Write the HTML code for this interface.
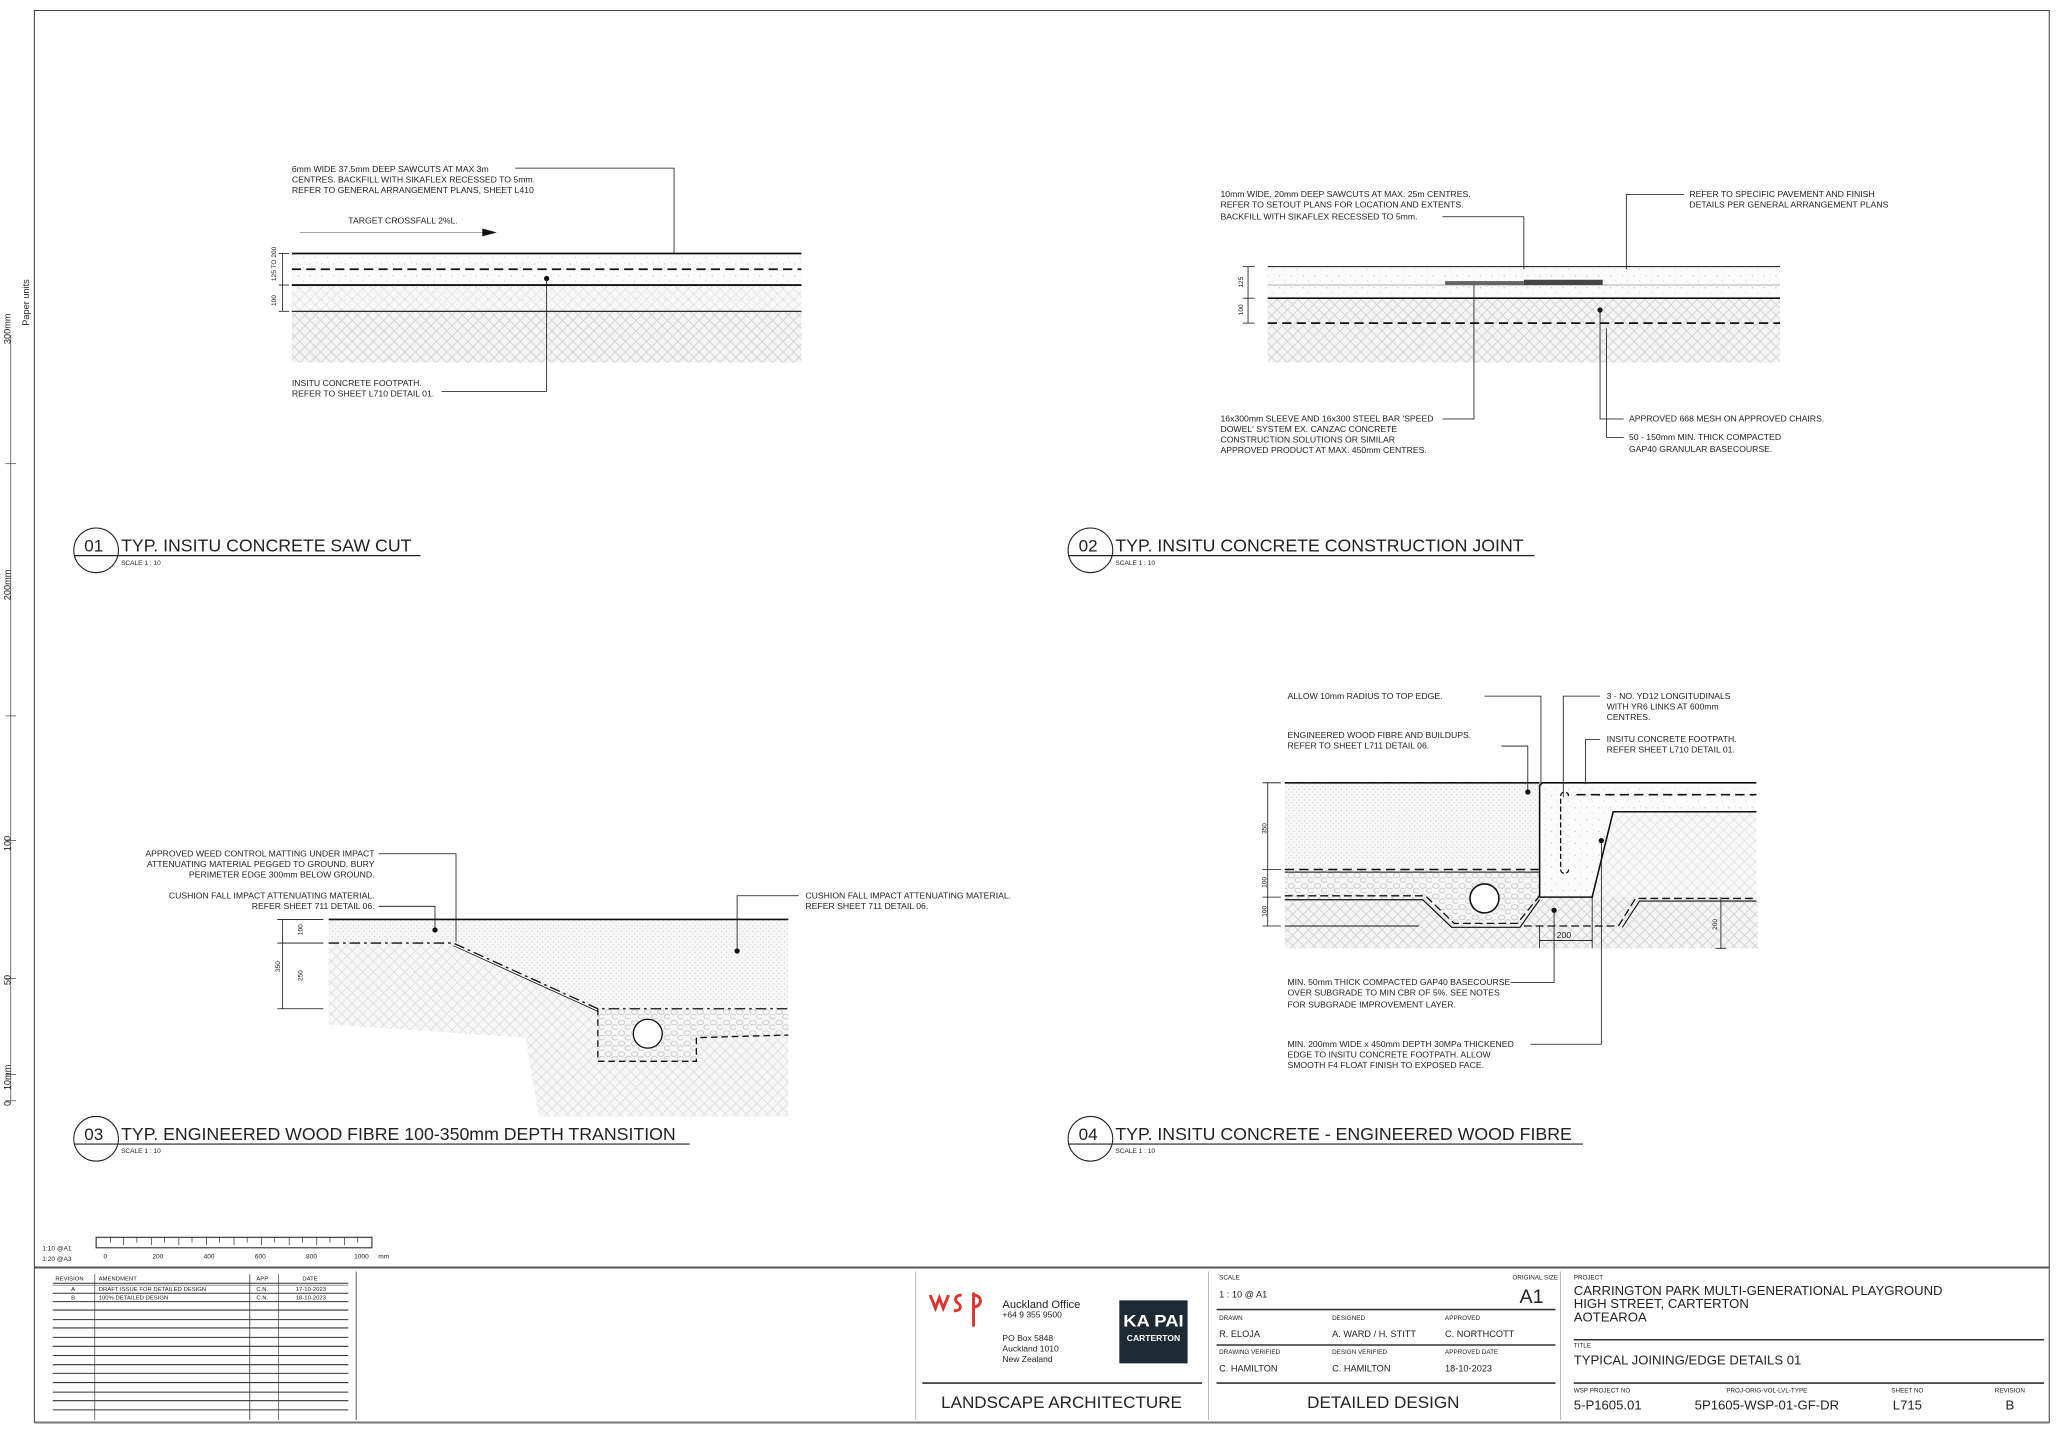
<!DOCTYPE html>
<html><head><meta charset="utf-8"><style>
html,body{margin:0;padding:0;background:#fff;}
svg{display:block;}
text{font-family:"Liberation Sans",Arial,sans-serif;fill:#222;}
.n{font-size:6.6px;}
.s{font-size:5px;}
.t{font-size:13.5px;}
</style></head><body>
<svg width="2060" height="1433" viewBox="0 0 1568 1091" xmlns="http://www.w3.org/2000/svg">
<defs>
<pattern id="ground" width="8" height="8" patternUnits="userSpaceOnUse">
<rect width="8" height="8" fill="#f4f4f4"/>
<path d="M0 8L8 0M0 0L8 8" stroke="#cfcfcf" stroke-width="0.6"/>
</pattern>
<pattern id="conc" width="9" height="9" patternUnits="userSpaceOnUse">
<rect width="9" height="9" fill="#fbfbfb"/>
<circle cx="2" cy="3" r="0.5" fill="#bbb"/><circle cx="6" cy="7" r="0.4" fill="#ccc"/><circle cx="7" cy="2" r="0.3" fill="#bbb"/>
</pattern>
<pattern id="ewf" width="4" height="4" patternUnits="userSpaceOnUse">
<rect width="4" height="4" fill="#f7f7f7"/><circle cx="1" cy="1" r="0.5" fill="#cdcdcd"/><circle cx="3" cy="3" r="0.5" fill="#d8d8d8"/>
</pattern>
<pattern id="grav" width="10" height="8" patternUnits="userSpaceOnUse">
<rect width="10" height="8" fill="#f6f6f6"/>
<ellipse cx="3" cy="2.5" rx="2.5" ry="1.8" fill="none" stroke="#bbb" stroke-width="0.5"/>
<ellipse cx="8" cy="6" rx="2.3" ry="1.8" fill="none" stroke="#bbb" stroke-width="0.5"/>
</pattern>
</defs>
<rect width="1568" height="1091" fill="#fff"/>
<!-- border -->
<path d="M26 8H1560V1083H26Z" fill="none" stroke="#444" stroke-width="0.8"/>
<!-- left paper ruler -->
<g stroke="#555" stroke-width="0.6">
<line x1="8" y1="255" x2="8" y2="840"/>
<line x1="4" y1="353" x2="12" y2="353"/><line x1="4" y1="545" x2="12" y2="545"/><line x1="4" y1="640" x2="12" y2="640"/>
<line x1="4" y1="745" x2="12" y2="745"/><line x1="4" y1="818" x2="12" y2="818"/><line x1="4" y1="838" x2="12" y2="838"/>
</g>
<g class="s" font-size="7">
<text transform="translate(8,262) rotate(-90)" font-size="7">300mm</text>
<text transform="translate(22,248) rotate(-90)" font-size="7">Paper units</text>
<text transform="translate(8,457) rotate(-90)" font-size="7">200mm</text>
<text transform="translate(8,648) rotate(-90)" font-size="7">100</text>
<text transform="translate(8,750) rotate(-90)" font-size="7">50</text>
<text transform="translate(8,830) rotate(-90)" font-size="7">10mm</text>
<text transform="translate(8,842) rotate(-90)" font-size="7">0</text>
</g>

<!-- ============ DETAIL 01 ============ -->
<rect x="222" y="193" width="388" height="44" fill="url(#conc)"/>
<rect x="222" y="217" width="388" height="20" fill="url(#ground)" opacity="0.5"/>
<rect x="222" y="237" width="388" height="39" fill="url(#ground)"/>
<g stroke="#111">
<line x1="222" y1="193" x2="610" y2="193" stroke-width="1.4"/>
<line x1="222" y1="205" x2="610" y2="205" stroke-width="1.4" stroke-dasharray="7,4"/>
<line x1="222" y1="217" x2="610" y2="217" stroke-width="1.4"/>
<line x1="222" y1="237" x2="610" y2="237" stroke-width="0.8"/>
<line x1="215" y1="193" x2="215" y2="237" stroke-width="0.6"/>
<line x1="212" y1="193" x2="220" y2="193" stroke-width="0.6"/><line x1="212" y1="217" x2="220" y2="217" stroke-width="0.6"/><line x1="212" y1="237" x2="220" y2="237" stroke-width="0.6"/>
<polyline points="392,128 513,128 513,193" fill="none" stroke-width="0.6"/>
<polyline points="336,298 416,298 416,212" fill="none" stroke-width="0.6"/>
<line x1="228" y1="177" x2="368" y2="177" stroke="#888" stroke-width="0.6"/>
</g>
<polygon points="367,174 378,177 367,180" fill="#111"/>
<circle cx="416" cy="212" r="2" fill="#111"/>
<text class="s" transform="translate(210,214) rotate(-90)">125 TO 200</text>
<text class="s" transform="translate(210,233) rotate(-90)">100</text>
<text class="n" x="222" y="131">6mm WIDE 37.5mm DEEP SAWCUTS AT MAX 3m</text>
<text class="n" x="222" y="139">CENTRES. BACKFILL WITH SIKAFLEX RECESSED TO 5mm.</text>
<text class="n" x="222" y="147">REFER TO GENERAL ARRANGEMENT PLANS, SHEET L410</text>
<text class="n" x="265" y="170">TARGET CROSSFALL 2%L.</text>
<text class="n" x="222" y="294">INSITU CONCRETE FOOTPATH.</text>
<text class="n" x="222" y="302">REFER TO SHEET L710 DETAIL 01.</text>
<!-- title 01 -->
<circle cx="73" cy="419" r="17" fill="none" stroke="#222" stroke-width="0.8"/>
<line x1="56" y1="423" x2="320" y2="423" stroke="#222" stroke-width="0.9"/>
<text x="64" y="420" font-size="13">01</text>
<text class="t" x="92" y="420">TYP. INSITU CONCRETE SAW CUT</text>
<text class="s" x="92" y="430">SCALE  1 : 10</text>

<!-- ============ DETAIL 02 ============ -->
<rect x="965" y="203" width="390" height="24" fill="url(#conc)"/>
<rect x="965" y="227" width="390" height="49" fill="url(#ground)"/>
<g stroke="#111">
<line x1="965" y1="203" x2="1355" y2="203" stroke-width="0.8"/>
<line x1="965" y1="217" x2="1355" y2="217" stroke-width="0.6" stroke="#999"/>
<line x1="965" y1="227" x2="1355" y2="227" stroke-width="1.2"/>
<line x1="965" y1="246" x2="1355" y2="246" stroke-width="1.4" stroke-dasharray="7,4"/>
<rect x="1100" y="214" width="60" height="3" fill="#666" stroke="none"/>
<rect x="1160" y="213" width="60" height="4" fill="#444" stroke="none"/>
<line x1="950" y1="203" x2="950" y2="246" stroke-width="0.6"/>
<line x1="946" y1="203" x2="955" y2="203" stroke-width="0.6"/><line x1="946" y1="227" x2="955" y2="227" stroke-width="0.6"/><line x1="946" y1="246" x2="955" y2="246" stroke-width="0.6"/>
<polyline points="1098,165 1160,165 1160,205" fill="none" stroke-width="0.6"/>
<polyline points="1282,148 1238,148 1238,205" fill="none" stroke-width="0.6"/>
<polyline points="1098,319 1122,319 1122,217" fill="none" stroke-width="0.6"/>
<polyline points="1236,319 1218,319 1218,236" fill="none" stroke-width="0.6"/>
<polyline points="1236,333 1223,333 1223,250" fill="none" stroke-width="0.6"/>
</g>
<circle cx="1218" cy="236" r="2" fill="#111"/>
<text class="s" transform="translate(946,219) rotate(-90)">125</text>
<text class="s" transform="translate(946,240) rotate(-90)">100</text>
<text class="n" x="929" y="150">10mm WIDE, 20mm DEEP SAWCUTS AT MAX. 25m CENTRES.</text>
<text class="n" x="929" y="158">REFER TO SETOUT PLANS FOR LOCATION AND EXTENTS.</text>
<text class="n" x="929" y="167">BACKFILL WITH SIKAFLEX RECESSED TO 5mm.</text>
<text class="n" x="1286" y="150">REFER TO SPECIFIC PAVEMENT AND FINISH</text>
<text class="n" x="1286" y="158">DETAILS PER GENERAL ARRANGEMENT PLANS</text>
<text class="n" x="929" y="321">16x300mm SLEEVE AND 16x300 STEEL BAR 'SPEED</text>
<text class="n" x="929" y="329">DOWEL' SYSTEM EX. CANZAC CONCRETE</text>
<text class="n" x="929" y="337">CONSTRUCTION SOLUTIONS OR SIMILAR</text>
<text class="n" x="929" y="345">APPROVED PRODUCT AT MAX. 450mm CENTRES.</text>
<text class="n" x="1240" y="321">APPROVED 668 MESH ON APPROVED CHAIRS.</text>
<text class="n" x="1240" y="335">50 - 150mm MIN. THICK COMPACTED</text>
<text class="n" x="1240" y="344">GAP40 GRANULAR BASECOURSE.</text>
<circle cx="830" cy="419" r="17" fill="none" stroke="#222" stroke-width="0.8"/>
<line x1="813" y1="423" x2="1168" y2="423" stroke="#222" stroke-width="0.9"/>
<text x="821" y="420" font-size="13">02</text>
<text class="t" x="849" y="420">TYP. INSITU CONCRETE CONSTRUCTION JOINT</text>
<text class="s" x="849" y="430">SCALE  1 : 10</text>

<!-- ============ DETAIL 03 ============ -->
<polygon points="250,700 600,700 600,850 410,850 400,790 250,780" fill="url(#ground)" opacity="0.7"/>
<polygon points="250,700 600,700 600,768 455,768 345,718 250,718" fill="url(#ewf)"/>
<polygon points="455,768 600,768 600,790 530,790 530,808 455,808" fill="url(#grav)"/>
<g stroke="#111">
<line x1="250" y1="700" x2="600" y2="700" stroke-width="1.2"/>
<polyline points="250,718 345,718 455,768 600,768" fill="none" stroke-width="1" stroke-dasharray="8,3,2,3"/>
<polyline points="345,720 455,770" fill="none" stroke-width="0.6"/>
<polyline points="455,768 455,808 530,808 530,790 600,788" fill="none" stroke-width="1" stroke-dasharray="5,3"/>
<line x1="215" y1="700" x2="215" y2="768" stroke-width="0.6"/>
<line x1="211" y1="700" x2="246" y2="700" stroke-width="0.6"/><line x1="211" y1="718" x2="246" y2="718" stroke-width="0.6"/><line x1="211" y1="768" x2="246" y2="768" stroke-width="0.6"/>
<polyline points="288,650 347,650 347,717" fill="none" stroke-width="0.6"/>
<polyline points="288,690 331,690 331,708" fill="none" stroke-width="0.6"/>
<polyline points="608,682 561,682 561,724" fill="none" stroke-width="0.6"/>
</g>
<circle cx="493" cy="787" r="11" fill="#fff" stroke="#111" stroke-width="1"/>
<circle cx="331" cy="708" r="2" fill="#111"/><circle cx="561" cy="724" r="2" fill="#111"/>
<text class="s" transform="translate(230,712) rotate(-90)">100</text>
<text class="s" transform="translate(230,747) rotate(-90)">250</text>
<text class="s" transform="translate(213,740) rotate(-90)">350</text>
<g class="n" text-anchor="end">
<text x="285" y="652">APPROVED WEED CONTROL MATTING UNDER IMPACT</text>
<text x="285" y="660">ATTENUATING MATERIAL PEGGED TO GROUND. BURY</text>
<text x="285" y="668">PERIMETER EDGE 300mm BELOW GROUND.</text>
<text x="285" y="684">CUSHION FALL IMPACT ATTENUATING MATERIAL.</text>
<text x="285" y="692">REFER SHEET 711 DETAIL 06.</text>
</g>
<text class="n" x="613" y="684">CUSHION FALL IMPACT ATTENUATING MATERIAL.</text>
<text class="n" x="613" y="692">REFER SHEET 711 DETAIL 06.</text>
<circle cx="73" cy="867" r="17" fill="none" stroke="#222" stroke-width="0.8"/>
<line x1="56" y1="871" x2="525" y2="871" stroke="#222" stroke-width="0.9"/>
<text x="64" y="868" font-size="13">03</text>
<text class="t" x="92" y="868">TYP. ENGINEERED WOOD FIBRE 100-350mm DEPTH TRANSITION</text>
<text class="s" x="92" y="878">SCALE  1 : 10</text>

<!-- ============ DETAIL 04 ============ -->
<rect x="978" y="683" width="360" height="39" fill="url(#ground)"/>
<rect x="978" y="596" width="194" height="66" fill="url(#ewf)"/>
<polygon points="978,662 1172,662 1172,683 1155,705 1107,705 1085,683 978,683" fill="url(#grav)"/>
<polygon points="1172,598 1337,598 1337,618 1228,618 1212,683 1172,683" fill="url(#conc)"/>
<polygon points="1228,618 1337,618 1337,684 1245,684 1232,705 1212,705 1212,683" fill="url(#ground)" opacity="0.6"/>
<g stroke="#111" fill="none">
<line x1="978" y1="596" x2="1172" y2="596" stroke-width="1.2"/>
<polyline points="1172,683 1172,598 1174,596 1337,596" stroke-width="1.2"/>
<line x1="1200" y1="605" x2="1337" y2="605" stroke-width="1.2" stroke-dasharray="7,4"/>
<polyline points="1337,618 1228,618 1212,683 1172,683" stroke-width="1.2"/>
<line x1="978" y1="662" x2="1172" y2="662" stroke-width="1.2" stroke-dasharray="7,4"/>
<line x1="978" y1="664" x2="1172" y2="664" stroke-width="0.8"/>
<polyline points="978,682 1085,682 1107,703 1155,703 1172,682" stroke-width="1" stroke-dasharray="6,3"/>
<polyline points="978,685 1083,685 1105,706 1157,706 1172,685" stroke-width="0.9"/>
<line x1="978" y1="705" x2="1080" y2="705" stroke-width="0.8"/>
<polyline points="1160,705 1232,705 1245,684 1337,684" stroke-width="1" stroke-dasharray="6,3"/>
<polyline points="1235,706 1248,686 1337,686" stroke-width="0.8"/>
<path d="M1188 660V606a3 3 0 0 1 6 0M1188 662a3 3 0 0 0 6 0" stroke-width="1" stroke-dasharray="4,2"/>
<line x1="965" y1="596" x2="965" y2="705" stroke-width="0.6"/>
<line x1="961" y1="596" x2="975" y2="596" stroke-width="0.6"/><line x1="961" y1="662" x2="975" y2="662" stroke-width="0.6"/><line x1="961" y1="683" x2="975" y2="683" stroke-width="0.6"/><line x1="961" y1="705" x2="975" y2="705" stroke-width="0.6"/>
<line x1="1172" y1="716" x2="1212" y2="716" stroke-width="0.6"/>
<line x1="1172" y1="705" x2="1172" y2="722" stroke-width="0.6"/><line x1="1212" y1="683" x2="1212" y2="722" stroke-width="0.6"/>
<line x1="1310" y1="683" x2="1310" y2="722" stroke-width="0.6"/><line x1="1306" y1="722" x2="1314" y2="722" stroke-width="0.6"/>
<polyline points="1130,530 1173,530 1173,598" stroke-width="0.6"/>
<polyline points="1143,568 1163,568 1163,603" stroke-width="0.6"/>
<polyline points="1218,530 1190,530 1190,607" stroke-width="0.6"/>
<polyline points="1218,563 1207,563 1207,597" stroke-width="0.6"/>
<polyline points="1150,748 1183,748 1183,693" stroke-width="0.6"/>
<polyline points="1165,795 1219,795 1219,640" stroke-width="0.6"/>
</g>
<circle cx="1130" cy="684" r="11" fill="#fff" stroke="#111" stroke-width="1.2"/>
<circle cx="1163" cy="603" r="2" fill="#111"/><circle cx="1183" cy="693" r="2" fill="#111"/><circle cx="1219" cy="640" r="2" fill="#111"/>
<text class="s" transform="translate(964,635) rotate(-90)">350</text>
<text class="s" transform="translate(964,676) rotate(-90)">100</text>
<text class="s" transform="translate(964,698) rotate(-90)">100</text>
<text class="s" transform="translate(1307,708) rotate(-90)">200</text>
<text class="n" x="1185" y="714">200</text>
<text class="n" x="980" y="532">ALLOW 10mm RADIUS TO TOP EDGE.</text>
<text class="n" x="980" y="562">ENGINEERED WOOD FIBRE AND BUILDUPS.</text>
<text class="n" x="980" y="570">REFER TO SHEET L711 DETAIL 06.</text>
<text class="n" x="1223" y="532">3 - NO. YD12 LONGITUDINALS</text>
<text class="n" x="1223" y="540">WITH YR6 LINKS AT 600mm</text>
<text class="n" x="1223" y="548">CENTRES.</text>
<text class="n" x="1223" y="565">INSITU CONCRETE FOOTPATH.</text>
<text class="n" x="1223" y="573">REFER SHEET L710 DETAIL 01.</text>
<text class="n" x="980" y="750">MIN. 50mm THICK COMPACTED GAP40 BASECOURSE</text>
<text class="n" x="980" y="758">OVER SUBGRADE TO MIN CBR OF 5%. SEE NOTES</text>
<text class="n" x="980" y="767">FOR SUBGRADE IMPROVEMENT LAYER.</text>
<text class="n" x="980" y="797">MIN. 200mm WIDE x 450mm DEPTH 30MPa THICKENED</text>
<text class="n" x="980" y="805">EDGE TO INSITU CONCRETE FOOTPATH. ALLOW</text>
<text class="n" x="980" y="813">SMOOTH F4 FLOAT FINISH TO EXPOSED FACE.</text>
<circle cx="830" cy="867" r="17" fill="none" stroke="#222" stroke-width="0.8"/>
<line x1="813" y1="871" x2="1205" y2="871" stroke="#222" stroke-width="0.9"/>
<text x="821" y="868" font-size="13">04</text>
<text class="t" x="849" y="868">TYP. INSITU CONCRETE - ENGINEERED WOOD FIBRE</text>
<text class="s" x="849" y="878">SCALE  1 : 10</text>

<!-- ============ SCALE BAR ============ -->
<rect x="73" y="942" width="210" height="8" fill="none" stroke="#222" stroke-width="0.8"/>
<g stroke="#222" stroke-width="0.5">
<line x1="94" y1="942" x2="94" y2="948"/><line x1="115" y1="942" x2="115" y2="948"/><line x1="136" y1="942" x2="136" y2="948"/><line x1="157" y1="942" x2="157" y2="948"/><line x1="178" y1="942" x2="178" y2="948"/><line x1="199" y1="942" x2="199" y2="948"/><line x1="220" y1="942" x2="220" y2="948"/><line x1="241" y1="942" x2="241" y2="948"/><line x1="262" y1="942" x2="262" y2="948"/>
<line x1="84" y1="942" x2="84" y2="946"/><line x1="104" y1="942" x2="104" y2="946"/><line x1="125" y1="942" x2="125" y2="946"/><line x1="146" y1="942" x2="146" y2="946"/><line x1="167" y1="942" x2="167" y2="946"/><line x1="188" y1="942" x2="188" y2="946"/><line x1="209" y1="942" x2="209" y2="946"/><line x1="230" y1="942" x2="230" y2="946"/><line x1="251" y1="942" x2="251" y2="946"/><line x1="272" y1="942" x2="272" y2="946"/>
</g>
<text class="s" x="32" y="952">1:10   @A1</text>
<text class="s" x="32" y="960">1:20   @A3</text>
<g class="s" font-size="4.5" text-anchor="middle">
<text x="80" y="958">0</text><text x="120" y="958">200</text><text x="159" y="958">400</text><text x="198" y="958">600</text><text x="237" y="958">800</text><text x="275" y="958">1000</text><text x="292" y="958">mm</text>
</g>

<!-- ============ TITLE BLOCK ============ -->
<line x1="26" y1="965" x2="1560" y2="965" stroke="#555" stroke-width="1.5"/>
<line x1="26" y1="1083" x2="1560" y2="1083" stroke="#777" stroke-width="1.5"/>
<!-- revisions table -->
<g stroke="#333" stroke-width="0.8">
<line x1="40" y1="977" x2="265" y2="977"/><line x1="40" y1="978.5" x2="265" y2="978.5" stroke="#999"/>
<line x1="40" y1="984.6" x2="265" y2="984.6"/><line x1="40" y1="991" x2="265" y2="991"/>
<line x1="40" y1="997.4" x2="265" y2="997.4"/><line x1="40" y1="1004.7" x2="265" y2="1004.7"/><line x1="40" y1="1011" x2="265" y2="1011"/>
<line x1="40" y1="1018.2" x2="265" y2="1018.2"/><line x1="40" y1="1025" x2="265" y2="1025"/><line x1="40" y1="1032" x2="265" y2="1032"/>
<line x1="40" y1="1039" x2="265" y2="1039"/><line x1="40" y1="1045.6" x2="265" y2="1045.6"/><line x1="40" y1="1052.6" x2="265" y2="1052.6"/>
<line x1="40" y1="1059.9" x2="265" y2="1059.9"/><line x1="40" y1="1066.4" x2="265" y2="1066.4"/><line x1="40" y1="1073.4" x2="265" y2="1073.4"/>
<line x1="72" y1="970" x2="72" y2="1081" stroke-width="0.5"/>
<line x1="190" y1="970" x2="190" y2="1081" stroke-width="0.6"/>
<line x1="212" y1="970" x2="212" y2="1081" stroke-width="0.5"/>
<line x1="271" y1="968" x2="271" y2="1081" stroke-width="0.6"/>
<line x1="697" y1="968" x2="697" y2="1081" stroke="#aaa" stroke-width="0.6"/>
<line x1="920" y1="968" x2="920" y2="1081" stroke="#aaa" stroke-width="0.6"/>
<line x1="1188" y1="968" x2="1188" y2="1081" stroke="#aaa" stroke-width="0.6"/>
<line x1="702" y1="1053" x2="915" y2="1053" stroke-width="1.2"/>
<line x1="926" y1="997" x2="1184" y2="997" stroke-width="1.2"/>
<line x1="926" y1="1024" x2="1184" y2="1024" stroke-width="1.2"/>
<line x1="926" y1="1053" x2="1184" y2="1053" stroke-width="1.2"/>
<line x1="1198" y1="1020" x2="1556" y2="1020" stroke-width="1.2"/>
<line x1="1198" y1="1053" x2="1556" y2="1053" stroke-width="1.2"/>
</g>
<g font-size="4.5">
<text x="42" y="975">REVISION</text><text x="75" y="975">AMENDMENT</text><text x="195" y="975">APP</text><text x="230" y="975">DATE</text>
<text x="54" y="983">A</text><text x="75" y="983">DRAFT ISSUE FOR DETAILED DESIGN</text><text x="195" y="983">C.N.</text><text x="225" y="983">17-10-2023</text>
<text x="54" y="989.5">B</text><text x="75" y="989.5">100% DETAILED DESIGN</text><text x="195" y="989.5">C.N.</text><text x="225" y="989.5">18-10-2023</text>
</g>
<!-- WSP logo -->
<g fill="none" stroke="#e0312b" stroke-width="2.2">
<path d="M708 986l4 10l3-8l3 8l4-10"/>
<path d="M732 986c-5 0-6 4-3 6c3 2 3 6-3 6"/>
<path d="M741 984v26M741 986c7 0 7 9 0 9"/>
</g>
<text x="763" y="996" font-size="8.5">Auckland Office</text>
<text x="763" y="1003" font-size="6.5">+64 9 355 9500</text>
<text x="763" y="1021" font-size="6.5">PO Box 5848</text>
<text x="763" y="1029" font-size="6.5">Auckland 1010</text>
<text x="763" y="1037" font-size="6.5">New Zealand</text>
<!-- KA PAI logo -->
<rect x="852" y="990" width="52" height="48" fill="#1d2a33"/>
<text x="878" y="1010" font-size="13" font-weight="bold" text-anchor="middle" style="fill:#fff" textLength="46" lengthAdjust="spacingAndGlyphs">KA PAI</text>
<text x="878" y="1021" font-size="6.5" font-weight="bold" text-anchor="middle" style="fill:#fff">CARTERTON</text>
<text x="808" y="1072" font-size="13" text-anchor="middle">LANDSCAPE ARCHITECTURE</text>
<!-- scale / people -->
<g font-size="4.8">
<text x="928" y="974">SCALE</text><text x="1186" y="974" text-anchor="end">ORIGINAL SIZE</text>
<text x="928" y="1005">DRAWN</text><text x="1014" y="1005">DESIGNED</text><text x="1100" y="1005">APPROVED</text>
<text x="928" y="1031">DRAWING VERIFIED</text><text x="1014" y="1031">DESIGN VERIFIED</text><text x="1100" y="1031">APPROVED DATE</text>
<text x="1198" y="974">PROJECT</text><text x="1198" y="1026">TITLE</text>
<text x="1198" y="1060">WSP PROJECT NO</text><text x="1345" y="1060" text-anchor="middle">PROJ-ORIG-VOL-LVL-TYPE</text><text x="1452" y="1060" text-anchor="middle">SHEET NO</text><text x="1530" y="1060" text-anchor="middle">REVISION</text>
</g>
<g font-size="7">
<text x="928" y="988">1 : 10 @ A1</text>
<text x="928" y="1018">R. ELOJA</text><text x="1014" y="1018">A. WARD / H. STITT</text><text x="1100" y="1018">C. NORTHCOTT</text>
<text x="928" y="1044">C. HAMILTON</text><text x="1014" y="1044">C. HAMILTON</text><text x="1100" y="1044">18-10-2023</text>
</g>
<text x="1175" y="992" font-size="15" text-anchor="end">A1</text>
<text x="1053" y="1072" font-size="13" text-anchor="middle">DETAILED DESIGN</text>
<g font-size="10">
<text x="1198" y="986">CARRINGTON PARK MULTI-GENERATIONAL PLAYGROUND</text>
<text x="1198" y="996">HIGH STREET, CARTERTON</text>
<text x="1198" y="1006">AOTEAROA</text>
<text x="1198" y="1039">TYPICAL JOINING/EDGE DETAILS 01</text>
<text x="1198" y="1073">5-P1605.01</text>
<text x="1345" y="1073" text-anchor="middle">5P1605-WSP-01-GF-DR</text>
<text x="1452" y="1073" text-anchor="middle">L715</text>
<text x="1530" y="1073" text-anchor="middle">B</text>
</g>
</svg>
</body></html>
